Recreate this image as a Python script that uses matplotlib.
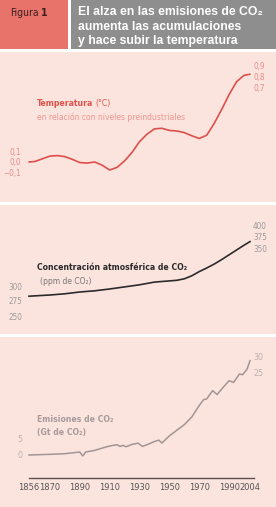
import matplotlib
matplotlib.use("Agg")
import matplotlib.pyplot as plt
from matplotlib import font_manager as fm

# --- data ---
temp_years = [1856, 1860, 1865, 1870, 1875, 1880, 1885, 1890, 1895, 1900, 1905, 1910,
              1915, 1920, 1925, 1930, 1935, 1940, 1945, 1950, 1955, 1960, 1965, 1970,
              1975, 1980, 1985, 1990, 1995, 2000, 2004]
temp_values = [0.0, 0.005, 0.03, 0.055, 0.06, 0.05, 0.025, -0.005, -0.01, 0.0, -0.03, -0.075,
               -0.05, 0.01, 0.09, 0.19, 0.26, 0.31, 0.315, 0.295, 0.29, 0.275, 0.245, 0.22,
               0.25, 0.36, 0.49, 0.63, 0.75, 0.81, 0.82]

co2_years = [1856, 1870, 1880, 1890, 1900, 1910, 1920, 1930, 1940, 1950, 1955, 1960,
             1965, 1970, 1975, 1980, 1985, 1990, 1995, 2000, 2004]
co2_ppm = [283, 285, 287, 290, 292, 295, 298.5, 302, 306.5, 308.5, 309.5, 312,
           317, 324, 330, 336.5, 344, 352, 360, 368, 374]

emis_years = [1856, 1870, 1880, 1890, 1892, 1894, 1900, 1908, 1912, 1915, 1917, 1919,
              1921, 1925, 1929, 1932, 1936, 1940, 1943, 1945, 1947, 1950, 1955, 1960,
              1965, 1970, 1973, 1975, 1979, 1982, 1986, 1990, 1993, 1997, 1999, 2002, 2004]
emis_gt = [0.0, 0.2, 0.4, 0.9, -0.3, 0.9, 1.4, 2.5, 2.9, 3.1, 2.6, 2.9,
           2.5, 3.2, 3.6, 2.6, 3.3, 4.1, 4.5, 3.6, 4.5, 5.8, 7.5, 9.2,
           11.5, 15.0, 16.8, 17.0, 19.5, 18.3, 20.5, 22.5, 22.0, 24.6, 24.3, 26.0, 28.6]

temp_left_ticks = [0.1, 0.0, -0.1]
temp_left_labels = ["0,1", "0,0", "\u22120,1"]
temp_right_ticks = [0.9, 0.8, 0.7]
temp_right_labels = ["0,9", "0,8", "0,7"]
co2_left_ticks = [300, 275, 250]
co2_right_ticks = [400, 375, 350]
emis_left_ticks = [5, 0]
emis_right_ticks = [30, 25]
year_ticks = [1856, 1870, 1890, 1910, 1930, 1950, 1970, 1990, 2004]

# --- styling ---
W, H = 276, 507
PINK = "#FCE4DE"
BOLD = ["Liberation Sans", "DejaVu Sans"]
PT = 0.72  # points per pixel at dpi 100


def pick_narrow():
    entries = {(f.name, str(f.stretch)) for f in fm.fontManager.ttflist}
    names = {n for n, _ in entries}
    if "Liberation Sans Narrow" in names:
        return {"family": "Liberation Sans Narrow"}, 1.0, 1.0
    if "DejaVu Sans Condensed" in names:
        return {"family": "DejaVu Sans Condensed"}, 0.95, 0.95
    if ("DejaVu Sans", "condensed") in entries:
        return {"family": "DejaVu Sans", "stretch": "condensed"}, 0.95, 0.95
    return {"family": "Roboto"}, 0.88, 0.78


# K scales tick labels, KT scales the longer captions
NARROW, K, KT = pick_narrow()

# x mapping: 1856 -> px 29, 2004 -> px 250
ppy = (250 - 29) / (2004 - 1856)
X0 = 1856 - 29 / ppy
X1 = 2004 + (W - 250) / ppy

fig = plt.figure(figsize=(W / 100, H / 100), dpi=100, facecolor="white")
renderer = fig.canvas.get_renderer()


def box(x0, x1, top, bottom, color):
    ax = fig.add_axes([x0 / W, 1 - bottom / H, (x1 - x0) / W, (bottom - top) / H])
    ax.set_facecolor(color)
    ax.set_xticks([])
    ax.set_yticks([])
    for s in ax.spines.values():
        s.set_visible(False)
    return ax


def ylim_for(top, bottom, y_ref, v_ref, ppu):
    return v_ref - (bottom - y_ref) / ppu, v_ref + (y_ref - top) / ppu


def narrow_labels(labels):
    for t in labels:
        t.set_family(NARROW["family"])
        if "stretch" in NARROW:
            t.set_stretch(NARROW["stretch"])


def side_ticks(ax, ticks, labels, color, left_px, right_px, size=6.2, right_axis=None):
    ax.set_yticks(ticks[0], labels[0])
    ax.tick_params(axis="y", length=0, pad=-left_px * PT, labelsize=size * K, labelcolor=color)
    narrow_labels(ax.get_yticklabels())
    r = right_axis if right_axis is not None else ax.secondary_yaxis("right")
    r.set_yticks(ticks[1], labels[1])
    r.tick_params(axis="y", length=0, pad=-right_px * PT, labelsize=size * K, labelcolor=color)
    narrow_labels(r.get_yticklabels())
    for s in r.spines.values():
        s.set_visible(False)
    return r


def label(x, y, s, size, color, **kw):
    return fig.text(x / W, 1 - y / H, s, fontsize=size * KT, color=color, va="center",
                    **NARROW, **kw)


def after(t, s, size, color, gap=2, **kw):
    bb = t.get_window_extent(renderer)
    x = bb.x1 + gap
    y = t.get_position()[1]
    return fig.text(x / W, y, s, fontsize=size * KT, color=color, va="center", **NARROW, **kw)


# header
box(0, 68, 0, 49, "#E8736B")
box(71, W, 0, 49, "#8E8E8E")
fig_t = label(10, 13, "Figura", 7.9, "#3A2020")
after(fig_t, "1", 7.9, "#3A2020", gap=2.5, weight="bold")
title = ["El alza en las emisiones de CO\u2082", "aumenta las acumulaciones",
         "y hace subir la temperatura"]
for i, line in enumerate(title):
    fig.text(78 / W, 1 - (12 + 14.5 * i) / H, line, family=BOLD, weight="bold",
             fontsize=8.8, color="white", va="center")

# panel 1: temperature
ax1 = box(0, W, 52, 202, PINK)
ax1.set_xlim(X0, X1)
ax1.set_ylim(*ylim_for(52, 202, 162, 0.0, 107))
ax1.plot(temp_years, temp_values, color="#DC4F4A", lw=1.2, solid_capstyle="round")
side_ticks(ax1, (temp_left_ticks, temp_right_ticks), (temp_left_labels, temp_right_labels),
           "#E88C88", 21, 23)
t_temp = label(37, 104, "Temperatura", 6.5, "#E0524C", weight="bold")
after(t_temp, "(\u00b0C)", 6.5, "#E0524C")
label(37, 117.5, "en relaci\u00f3n con niveles preindustriales", 6.4, "#EE9590")

# panel 2: CO2 concentration
ax2 = box(0, W, 205, 334, PINK)
ax2.set_xlim(X0, X1)
ax2.set_ylim(*ylim_for(205, 334, 286, 300, 0.6))
ax2.plot(co2_years, co2_ppm, color="#2B2B2B", lw=1.2)
ax2r = ax2.twinx()
ax2r.set_ylim(*ylim_for(205, 334, 225, 400, 0.46))
side_ticks(ax2, (co2_left_ticks, co2_right_ticks),
           ([str(v) for v in co2_left_ticks], [str(v) for v in co2_right_ticks]),
           "#9A9A9A", 22, 23, right_axis=ax2r)
label(37, 267, "Concentraci\u00f3n atmosf\u00e9rica de CO\u2082", 6.5, "#2A2A2A", weight="bold")
label(40, 282, "(ppm de CO\u2082)", 6.4, "#777777")

# panel 3: emissions
ax3 = box(0, W, 337, H, PINK)
ax3.set_xlim(X0, X1)
ax3.set_ylim(*ylim_for(337, H, 455, 0, 3.3))
ax3.plot(emis_years, emis_gt, color="#A39494", lw=1.1)
side_ticks(ax3, (emis_left_ticks, emis_right_ticks),
           ([str(v) for v in emis_left_ticks], [str(v) for v in emis_right_ticks]),
           "#BFAFAF", 22, 23, size=6.6)
ax3.spines["bottom"].set_visible(True)
ax3.spines["bottom"].set_position(("axes", (H - 478) / (H - 337)))
ax3.spines["bottom"].set_bounds(1856, 2007)
ax3.spines["bottom"].set_color("#5E4E4E")
ax3.spines["bottom"].set_linewidth(1.0)
ax3.set_xticks(year_ticks, [str(y) for y in year_ticks])
ax3.tick_params(axis="x", length=0, pad=5 * PT, labelsize=7 * K, labelcolor="#555555")
narrow_labels(ax3.get_xticklabels())
label(37, 420, "Emisiones de CO\u2082", 6.5, "#A89A9A", weight="bold")
label(37, 433, "(Gt de CO\u2082)", 6.5, "#A89A9A", weight="bold")

fig.savefig("out.png", dpi=100, facecolor="white")
